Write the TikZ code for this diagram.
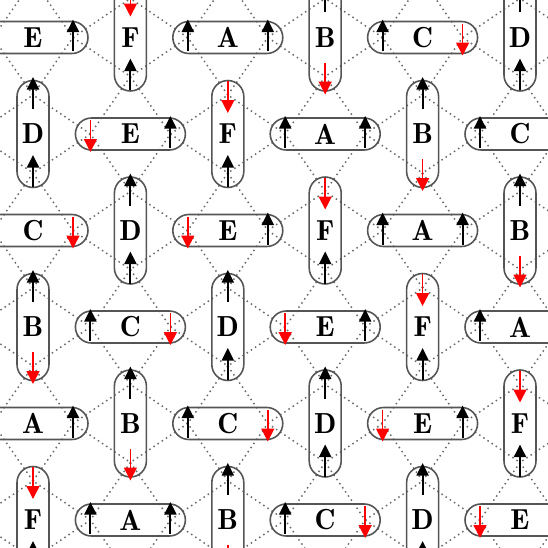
\documentclass[tikz,border=0pt]{standalone}
\usepackage{fontspec}
\usetikzlibrary{arrows.meta}
\newfontfamily\pillfont{lmromandemi10-regular}[Extension=.otf]
\definecolor{rim}{HTML}{555555}
\definecolor{bond}{HTML}{6A6A6A}
\tikzset{
  hpill/.style={draw=rim,line width=.9pt,rounded corners=0.32cm,minimum width=2.2cm,minimum height=0.64cm,inner sep=0pt},
  vpill/.style={hpill,minimum width=0.64cm,minimum height=2.14cm},
  lattice/.style={bond,line width=.85pt,dotted},
  spinup/.style={black,line width=1.1pt,-{Triangle[length=0.25cm,width=0.24cm]}},
  spindown/.style={red,line width=.9pt,-{Triangle[length=0.26cm,width=0.26cm]}}
}
\newcommand\spin[2]{%
  \ifnum#2=0
    \draw[spinup] ([yshift=-0.28cm]#1) -- ([yshift=0.36cm]#1);
  \else
    \draw[spindown] ([yshift=0.28cm]#1) -- ([yshift=-0.36cm]#1);
  \fi}
\begin{document}
\begin{tikzpicture}[x=0.02cm,y=-0.02cm,font=\pillfont\fontsize{16.5}{19}\selectfont]
\path[use as bounding box] (0,0) rectangle (548,548);
\clip (0,0) rectangle (548,548);
\foreach \col in {-2,...,7}{\foreach \row in {-2,...,7}{
  \pgfmathsetmacro\mx{33+97.4*\col}
  \pgfmathsetmacro\my{37.5+96.5*\row}
  \pgfmathtruncatemacro\odd{mod(\col+\row+20,2)}
  \coordinate (mid-\col-\row) at (\mx,\my);
  \ifnum\odd=0
    \coordinate (end-\col-\row-1) at (\mx-40,\my);
    \coordinate (end-\col-\row-2) at (\mx+40,\my);
  \else
    \coordinate (end-\col-\row-1) at (\mx,\my-39);
    \coordinate (end-\col-\row-2) at (\mx,\my+39);
  \fi}}
% dotted bonds of the lattice
\foreach \col in {-1,...,6}{\foreach \row in {-1,...,6}{
  \pgfmathtruncatemacro\odd{mod(\col+\row+20,2)}
  \pgfmathtruncatemacro\lft{\col-1}
  \pgfmathtruncatemacro\rgt{\col+1}
  \pgfmathtruncatemacro\abv{\row-1}
  \pgfmathtruncatemacro\blw{\row+1}
  \ifnum\odd=0
    \draw[lattice] (end-\col-\row-2) -- (end-\rgt-\row-1) (end-\col-\row-2) -- (end-\rgt-\row-2)
      (end-\col-\row-1) -- (end-\lft-\row-1) (end-\col-\row-1) -- (end-\lft-\row-2);
  \else
    \draw[lattice] (end-\col-\row-1) -- (end-\col-\abv-1) (end-\col-\row-1) -- (end-\col-\abv-2)
      (end-\col-\row-2) -- (end-\col-\blw-1) (end-\col-\row-2) -- (end-\col-\blw-2);
  \fi}}
% pills, letters and spins
\foreach \col in {-1,...,6}{\foreach \row in {-1,...,6}{
  \pgfmathtruncatemacro\odd{mod(\col+\row+20,2)}
  \pgfmathtruncatemacro\k{mod(\col-\row+28,6)}
  \edef\letter{\ifcase\k A\or B\or C\or D\or E\or F\fi}
  \ifnum\odd=0
    \node[hpill] (pill-\col-\row) at (mid-\col-\row) {\letter};
  \else
    \node[vpill] (pill-\col-\row) at (mid-\col-\row) {\letter};
  \fi
  \pgfmathtruncatemacro\first{\k>3}
  \pgfmathtruncatemacro\second{or(\k==1,\k==2)}
  \spin{end-\col-\row-1}{\first}
  \spin{end-\col-\row-2}{\second}}}
\end{tikzpicture}
\end{document}
